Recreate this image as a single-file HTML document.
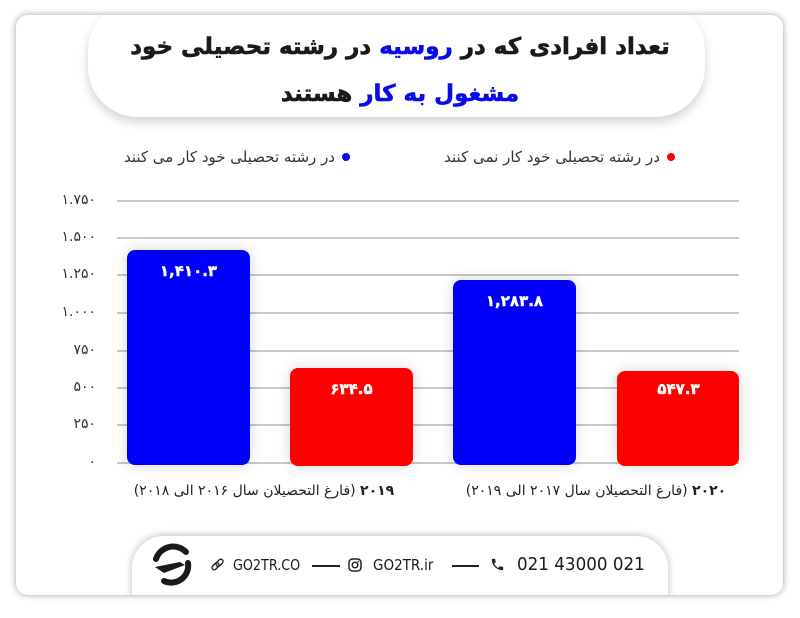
<!DOCTYPE html>
<html>
<head>
<meta charset="utf-8">
<style>
  html,body{margin:0;padding:0;}
  body{width:800px;height:618px;background:#ffffff;position:relative;overflow:hidden;font-family:"DejaVu Sans","Liberation Sans",sans-serif;}
  .card{position:absolute;left:16px;top:15px;width:767px;height:580px;background:#fff;border-radius:12px;box-shadow:0 0 7px rgba(0,0,0,0.38);overflow:hidden;}
  .abs{position:absolute;}
  .titlepill{position:absolute;left:72px;top:-14px;width:617px;height:116px;background:#fff;border-radius:50px;box-shadow:0 5px 10px rgba(0,0,0,0.18);}
  .t{position:absolute;left:0;width:800px;text-align:center;direction:rtl;font-weight:bold;color:#1a1a1a;font-size:23px;line-height:30px;white-space:nowrap;-webkit-text-stroke:0.6px currentColor;}
  .blue{color:#0a0af0;}
  .leg{position:absolute;direction:rtl;font-size:15px;color:#333;line-height:18px;white-space:nowrap;text-align:right;}
  .dot{position:absolute;width:8px;height:8px;border-radius:50%;}
  .grid{position:absolute;left:117px;width:622px;height:2px;background:#c8c8c8;}
  .yl{position:absolute;width:60px;left:36px;text-align:right;font-size:14px;color:#333;line-height:16px;}
  .bar{position:absolute;border-radius:8px;box-shadow:0 0 14px rgba(0,0,0,0.16);}
  .bl{position:absolute;width:123px;text-align:center;color:#fff;font-weight:bold;font-size:15px;line-height:18px;-webkit-text-stroke:0.4px #fff;}
  .cat{position:absolute;direction:rtl;font-size:14px;color:#222;line-height:16px;white-space:nowrap;text-align:center;width:330px;}
  .footpill{position:absolute;left:116px;top:521px;width:536px;height:90px;background:#fff;border-radius:32px;box-shadow:0 -1px 8px rgba(0,0,0,0.25);}
  .ft{position:absolute;font-family:"DejaVu Sans","Liberation Sans",sans-serif;color:#1a1a1a;white-space:nowrap;line-height:20px;transform-origin:0 50%;}
</style>
</head>
<body>
<div class="card">
  <div class="titlepill"></div>
  <div class="footpill"></div>
</div>

<div class="t" style="top:32px;">تعداد افرادی که در <span class="blue">روسیه</span> در رشته تحصیلی خود</div>
<div class="t" style="top:79px;"><span class="blue">مشغول به کار</span> هستند</div>

<!-- legend -->
<div class="dot" style="left:342px;top:153px;background:#0a0af0;"></div>
<div class="leg" style="right:465px;top:148px;">در رشته تحصیلی خود کار می کنند</div>
<div class="dot" style="left:667px;top:153px;background:#f00;"></div>
<div class="leg" style="right:140px;top:148px;">در رشته تحصیلی خود کار نمی کنند</div>

<!-- grid -->
<div class="grid" style="top:200px;"></div>
<div class="grid" style="top:237px;"></div>
<div class="grid" style="top:274px;"></div>
<div class="grid" style="top:312px;"></div>
<div class="grid" style="top:350px;"></div>
<div class="grid" style="top:387px;"></div>
<div class="grid" style="top:424px;"></div>
<div class="grid" style="top:462px;"></div>

<div class="yl" style="top:192px;">۱.۷۵۰</div>
<div class="yl" style="top:229px;">۱.۵۰۰</div>
<div class="yl" style="top:266px;">۱.۲۵۰</div>
<div class="yl" style="top:304px;">۱.۰۰۰</div>
<div class="yl" style="top:342px;">۷۵۰</div>
<div class="yl" style="top:379px;">۵۰۰</div>
<div class="yl" style="top:416px;">۲۵۰</div>
<div class="yl" style="top:454px;">۰</div>

<!-- bars -->
<div class="bar" style="left:127px;top:250px;width:123px;height:215px;background:#0000fa;"></div>
<div class="bar" style="left:290px;top:368px;width:123px;height:98px;background:#fe0000;"></div>
<div class="bar" style="left:453px;top:280px;width:123px;height:185px;background:#0000fa;"></div>
<div class="bar" style="left:617px;top:371px;width:122px;height:95px;background:#fe0000;"></div>

<div class="bl" style="left:127px;top:262px;"><span dir="ltr">۱,۴۱۰.۳</span></div>
<div class="bl" style="left:290px;top:380px;"><span dir="ltr">۶۳۴.۵</span></div>
<div class="bl" style="left:453px;top:292px;"><span dir="ltr">۱,۲۸۳.۸</span></div>
<div class="bl" style="left:617px;top:380px;"><span dir="ltr">۵۴۷.۳</span></div>

<div class="cat" style="left:99px;top:483px;"><b>۲۰۱۹</b> (فارغ التحصیلان سال ۲۰۱۶ الی ۲۰۱۸)</div>
<div class="cat" style="left:431px;top:483px;"><b>۲۰۲۰</b> (فارغ التحصیلان سال ۲۰۱۷ الی ۲۰۱۹)</div>

<!-- footer -->
<svg class="abs" style="left:150px;top:543px;" width="44" height="44" viewBox="0 0 44 44">
  <path d="M36 9 A18 18 0 0 0 6 16" fill="none" stroke="#1a1a1a" stroke-width="6" stroke-linecap="round"/>
  <path d="M38 20 A17 17 0 0 1 14 38" fill="none" stroke="#1a1a1a" stroke-width="6" stroke-linecap="round"/>
  <path d="M5 24 L30 19 L35 22 L14 30 Z" fill="#1a1a1a"/>
</svg>
<svg class="abs" style="left:210px;top:558px;" width="15" height="15" viewBox="0 0 15 15">
  <rect x="1.5" y="6" width="8" height="4.5" rx="2.2" transform="rotate(-45 5.5 8.2)" fill="none" stroke="#222" stroke-width="1.4"/>
  <rect x="5.5" y="2.5" width="8" height="4.5" rx="2.2" transform="rotate(-45 9.5 4.7)" fill="none" stroke="#222" stroke-width="1.4"/>
</svg>
<div class="ft" style="left:233px;top:555px;font-size:15px;transform:scaleX(0.85);">GO2TR.CO</div>
<div class="abs" style="left:312px;top:565px;width:28px;height:2px;background:#222;"></div>
<svg class="abs" style="left:348px;top:558px;" width="14" height="14" viewBox="0 0 14 14">
  <rect x="1" y="1" width="12" height="12" rx="3.5" fill="none" stroke="#222" stroke-width="1.5"/>
  <circle cx="7" cy="7" r="2.8" fill="none" stroke="#222" stroke-width="1.5"/>
  <circle cx="10.4" cy="3.6" r="0.8" fill="#222"/>
</svg>
<div class="ft" style="left:373px;top:555px;font-size:15px;transform:scaleX(0.9);">GO2TR.ir</div>
<div class="abs" style="left:452px;top:565px;width:27px;height:2px;background:#222;"></div>
<svg class="abs" style="left:490px;top:557px;" width="15" height="15" viewBox="0 0 24 24">
  <path d="M6.6 10.8c1.4 2.8 3.8 5.1 6.6 6.6l2.2-2.2c.3-.3.7-.4 1-.2 1.1.4 2.3.6 3.6.6.6 0 1 .4 1 1V20c0 .6-.4 1-1 1C10.6 21 3 13.4 3 4c0-.6.4-1 1-1h3.5c.6 0 1 .4 1 1 0 1.3.2 2.5.6 3.6.1.3 0 .7-.2 1L6.6 10.8z" fill="#222"/>
</svg>
<div class="ft" style="left:517px;top:555px;font-size:18px;transform:scaleX(0.93);">021 43000 021</div>
</body>
</html>
